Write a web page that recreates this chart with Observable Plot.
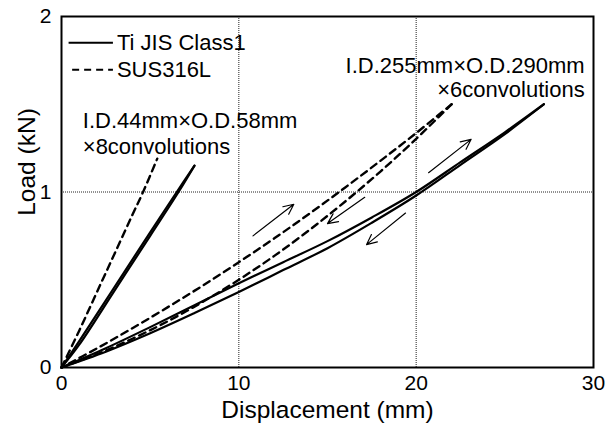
<!DOCTYPE html>
<html>
<head>
<meta charset="utf-8">
<script src="https://cdn.jsdelivr.net/npm/d3@7"></script>
<script src="https://cdn.jsdelivr.net/npm/@observablehq/plot@0.6"></script>
<style>
  html, body { margin: 0; padding: 0; background: white; }
</style>
</head>
<body>
<div id="chart"></div>
<script>
// ---- data ----
const xTicks = [0, 10, 20, 30];
const yTicks = [0, 1, 2];
const xGrid = [10, 20];
const yGrid = [1];

// Small bellows (I.D.44mm x O.D.58mm x 8 convolutions)
const tiSmallLoad   = [[0,0],[1,0.15],[3,0.46],[5,0.77],[6.5,1.0],[7.5,1.15]];
const tiSmallUnload = [[7.5,1.15],[6.6,1.0],[5,0.75],[3,0.44],[1,0.13],[0,0]];
const susSmall      = [[0,0],[1,0.21],[2,0.43],[3,0.65],[4,0.87],[4.6,1.0],[5.4,1.19]];

// Large bellows (I.D.255mm x O.D.290mm x 6 convolutions)
const tiLargeLoad   = [[0,0],[2.5,0.11],[5,0.23],[7.5,0.355],[10,0.48],[12.5,0.6],[15,0.72],[17.5,0.855],[20,1.0],[22.5,1.17],[25,1.34],[27.2,1.5]];
const tiLargeUnload = [[27.2,1.5],[25,1.33],[22.5,1.155],[20,0.98],[17.5,0.825],[15,0.68],[12.5,0.555],[10,0.43],[7.5,0.31],[5,0.195],[2.5,0.09],[0,0]];
const susLargeLoad   = [[0,0],[2,0.076],[4,0.164],[6,0.264],[8,0.376],[10,0.5],[12,0.636],[14,0.785],[16,0.946],[18,1.118],[20,1.303],[22,1.5]];
const susLargeUnload = [[22,1.5],[20,1.336],[18,1.179],[16,1.026],[14,0.878],[12,0.736],[10,0.6],[8,0.469],[6,0.344],[4,0.224],[2,0.109],[0,0]];

// direction arrows (data coordinates)
const arrowsData = [
  {x1: 10.8, y1: 0.75, x2: 13.1, y2: 0.93},
  {x1: 17.1, y1: 0.97, x2: 15.0, y2: 0.82},
  {x1: 20.7, y1: 1.11, x2: 23.1, y2: 1.30},
  {x1: 19.4, y1: 0.88, x2: 17.2, y2: 0.70}
];

// annotation labels
const notesLeft  = [{x: 1.2, y: 1.364, text: "I.D.44mm×O.D.58mm"}, {x: 1.2, y: 1.215, text: "×8convolutions"}];
const notesRight = [{x: 29.5, y: 1.68, text: "I.D.255mm×O.D.290mm"}, {x: 29.5, y: 1.543, text: "×6convolutions"}];

// legend
const legendItems = [
  {label: "Ti JIS Class1", dashed: false, x1: 0.4, x2: 2.9, y: 1.851},
  {label: "SUS316L",       dashed: true,  x1: 0.6, x2: 2.9, y: 1.697}
];

// ---- build tables ----
function toRows(points, curve, material) {
  return points.map(([x, y]) => ({x, y, curve, material}));
}
const rows = [
  ...toRows(tiSmallLoad, "tiSmallLoad", "Ti"),
  ...toRows(tiSmallUnload, "tiSmallUnload", "Ti"),
  ...toRows(susSmall, "susSmall", "SUS"),
  ...toRows(tiLargeLoad, "tiLargeLoad", "Ti"),
  ...toRows(tiLargeUnload, "tiLargeUnload", "Ti"),
  ...toRows(susLargeLoad, "susLargeLoad", "SUS"),
  ...toRows(susLargeUnload, "susLargeUnload", "SUS")
];
const tiRows = rows.filter(d => d.material === "Ti");
const susRows = rows.filter(d => d.material === "SUS");

const font = "'Liberation Sans', Arial, Helvetica, sans-serif";

const chart = Plot.plot({
  width: 606,
  height: 432,
  marginLeft: 61,
  marginRight: 13,
  marginTop: 16,
  marginBottom: 65,
  style: {fontFamily: font, fontSize: "21px", background: "white", color: "black"},
  x: {domain: [0, 30]},
  y: {domain: [0, 2]},
  marks: [
    Plot.gridX(xGrid, {stroke: "#222", strokeOpacity: 1, strokeWidth: 1, strokeDasharray: "1,1"}),
    Plot.gridY(yGrid, {stroke: "#222", strokeOpacity: 1, strokeWidth: 1, strokeDasharray: "1,1"}),
    Plot.line(tiRows, {x: "x", y: "y", z: "curve", stroke: "black", strokeWidth: 2.2, curve: "catmull-rom"}),
    Plot.line(susRows, {x: "x", y: "y", z: "curve", stroke: "black", strokeWidth: 2.4, strokeDasharray: "7,5", curve: "catmull-rom"}),
    Plot.arrow(arrowsData, {x1: "x1", y1: "y1", x2: "x2", y2: "y2", stroke: "black", strokeWidth: 1.2, headLength: 14, headAngle: 50}),
    Plot.text(notesLeft, {x: "x", y: "y", text: "text", textAnchor: "start", lineAnchor: "bottom", fontSize: 22}),
    Plot.text(notesRight, {x: "x", y: "y", text: "text", textAnchor: "end", lineAnchor: "bottom", fontSize: 22}),
    Plot.link(legendItems.filter(d => !d.dashed), {x1: "x1", x2: "x2", y1: "y", y2: "y", stroke: "black", strokeWidth: 2}),
    Plot.link(legendItems.filter(d => d.dashed), {x1: "x1", x2: "x2", y1: "y", y2: "y", stroke: "black", strokeWidth: 2, strokeDasharray: "7,5"}),
    Plot.text(legendItems, {x: "x2", y: "y", text: "label", textAnchor: "start", dx: 4, fontSize: 22}),
    Plot.axisX({ticks: xTicks, tickSize: 0, tickPadding: 8, label: null, fontSize: 21, tickFormat: d3.format("d")}),
    Plot.axisY({ticks: yTicks, tickSize: 0, tickPadding: 10, label: null, fontSize: 21, tickFormat: d3.format("d")}),
    Plot.text(["Displacement (mm)"], {frameAnchor: "bottom", textAnchor: "middle", lineAnchor: "middle", dy: 43, fontSize: 24.5}),
    Plot.text(["Load (kN)"], {frameAnchor: "left", textAnchor: "middle", lineAnchor: "middle", rotate: -90, dx: -34, dy: -30, fontSize: 24.5}),
    Plot.frame({stroke: "black", strokeWidth: 2})
  ]
});
document.getElementById("chart").appendChild(chart);
</script>
</body>
</html>
